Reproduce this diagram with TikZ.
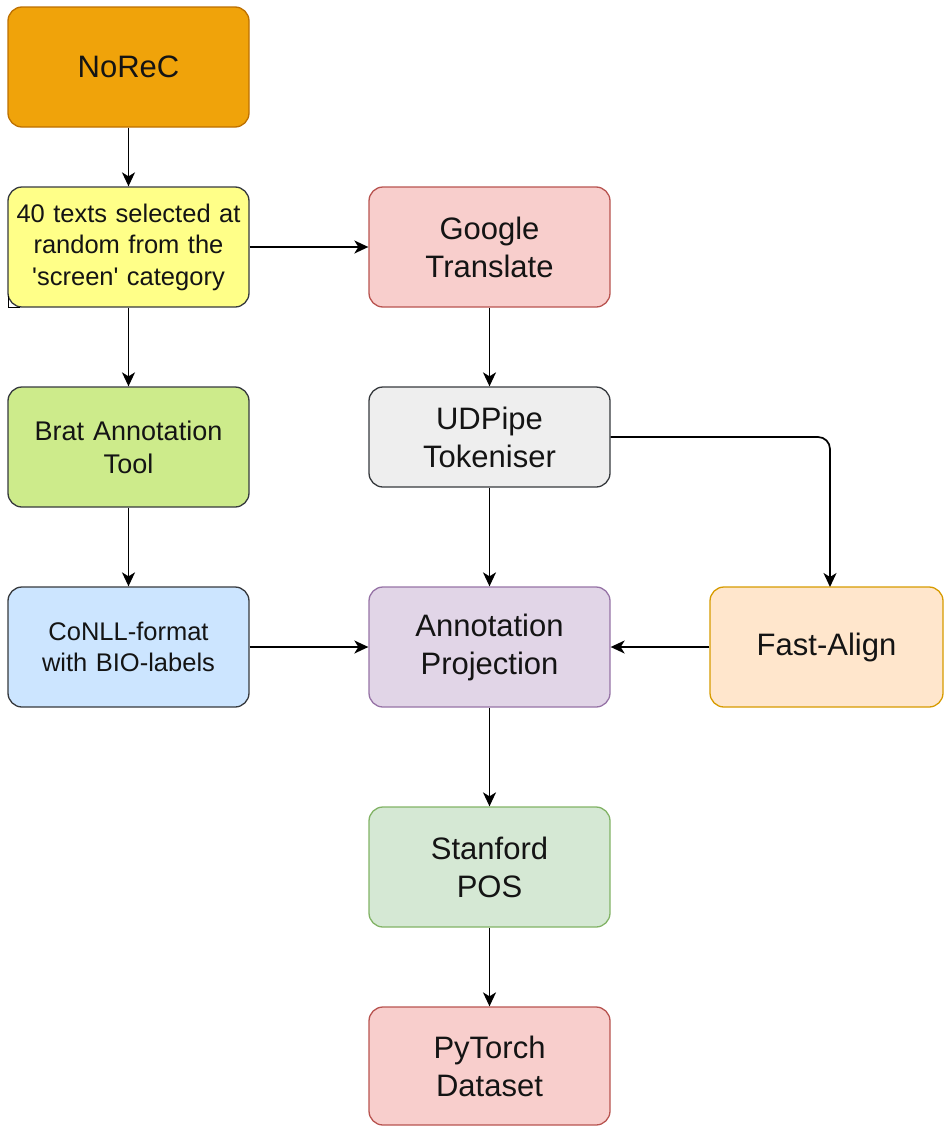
\documentclass[tikz,border=0pt]{standalone}
\usepackage{fontspec}
\newfontfamily\lsans{Liberation Sans}
\usetikzlibrary{arrows.meta}
\definecolor{txt}{HTML}{141414}
\definecolor{cNoReC}{HTML}{F0A30A}
\definecolor{sNoReC}{HTML}{BD7000}
\definecolor{cYellow}{HTML}{FFFF88}
\definecolor{sDark}{HTML}{36393D}
\definecolor{cRed}{HTML}{F8CECC}
\definecolor{sRed}{HTML}{B85450}
\definecolor{cLime}{HTML}{CDEB8B}
\definecolor{cGray}{HTML}{EEEEEE}
\definecolor{cBlue}{HTML}{CCE5FF}
\definecolor{cPurple}{HTML}{E1D5E7}
\definecolor{sPurple}{HTML}{9673A6}
\definecolor{cOrange}{HTML}{FFE6CC}
\definecolor{sOrange}{HTML}{D79B00}
\definecolor{cGreen}{HTML}{D5E8D4}
\definecolor{sGreen}{HTML}{82B366}
\tikzset{
  box/.style={rectangle, rounded corners=14pt, line width=1.3pt, minimum width=241pt, minimum height=120pt, inner sep=0pt, align=center, text width=235pt, text=txt, font=\lsans\fontsize{31}{38}\selectfont},
  midtext/.style={font=\lsans\fontsize{27}{33}\selectfont},
  smalltext/.style={font=\lsans\fontsize{25.5}{31.5}\selectfont},
  arr/.style={line width=1.7pt, -{Stealth[length=14pt,width=13pt,inset=4pt]}},
}
\begin{document}
\begin{tikzpicture}[x=1pt,y=-1pt]
\useasboundingbox (0,0) rectangle (944,1127);
\node[box, fill=cNoReC, draw=sNoReC] (norec) at (128.5,67) {NoReC};
\node[box, smalltext, fill=cYellow, draw=sDark] (texts) at (128.5,247) {40 texts selected at\\random from the\\'screen' category};
\node[box, fill=cRed, draw=sRed] (google) at (489.5,247) {Google\\Translate};
\node[box, midtext, fill=cLime, draw=sDark] (brat) at (128.5,447) {Brat Annotation\\Tool};
\node[box, fill=cGray, draw=sDark, minimum height=100pt] (udpipe) at (489.5,437) {UDPipe\\Tokeniser};
\node[box, smalltext, fill=cBlue, draw=sDark] (conll) at (128.5,647) {CoNLL-format\\with BIO-labels};
\node[box, fill=cPurple, draw=sPurple] (proj) at (489.5,647) {Annotation\\Projection};
\node[box, fill=cOrange, draw=sOrange, minimum width=233pt, text width=228pt] (fast) at (826.5,647) {Fast-Align};
\node[box, fill=cGreen, draw=sGreen] (stanford) at (489.5,867) {Stanford\\POS};
\node[box, fill=cRed, draw=sRed, minimum height=118pt] (torch) at (489.5,1066) {PyTorch\\Dataset};
\draw[line width=1pt, draw=black] (8,296) -- (8,307) -- (20,307);
\coordinate (fastin) at (830,587);
\draw[arr] (norec) -- (texts);
\draw[arr] (texts) -- (google);
\draw[arr] (texts) -- (brat);
\draw[arr] (brat) -- (conll);
\draw[arr] (google) -- (udpipe);
\draw[arr] (udpipe) -- (proj);
\draw[arr, rounded corners=12pt] (udpipe.east) -| (fastin);
\draw[arr] (fast) -- (proj);
\draw[arr] (conll) -- (proj);
\draw[arr] (proj) -- (stanford);
\draw[arr] (stanford) -- (torch);
\end{tikzpicture}
\end{document}
